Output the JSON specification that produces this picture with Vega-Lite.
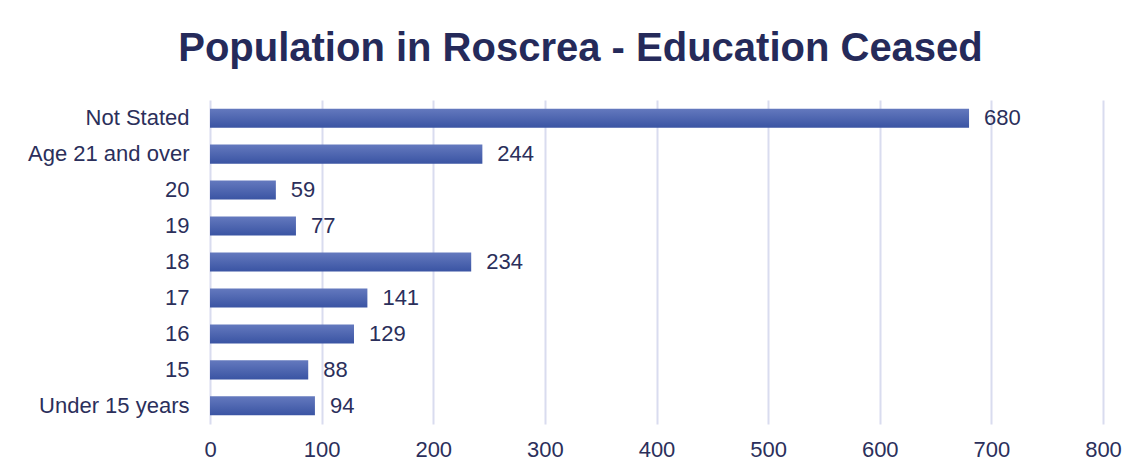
{
  "$schema": "https://vega.github.io/schema/vega-lite/v6.json",
  "width": 893,
  "height": 324,
  "autosize": {"type": "none"},
  "padding": {"left": 210, "top": 100, "right": 40, "bottom": 51},
  "background": "white",
  "title": {
    "text": "Population in Roscrea - Education Ceased",
    "font": "Liberation Sans",
    "fontSize": 40,
    "fontWeight": "bold",
    "color": "#252a5a",
    "anchor": "middle",
    "dx": -76,
    "baseline": "alphabetic",
    "offset": -1
  },
  "data": {
    "values": [
      {"category": "Not Stated", "value": 680},
      {"category": "Age 21 and over", "value": 244},
      {"category": "20", "value": 59},
      {"category": "19", "value": 77},
      {"category": "18", "value": 234},
      {"category": "17", "value": 141},
      {"category": "16", "value": 129},
      {"category": "15", "value": 88},
      {"category": "Under 15 years", "value": 94}
    ]
  },
  "encoding": {
    "y": {
      "field": "category",
      "type": "nominal",
      "sort": null,
      "scale": {"paddingInner": 0.47, "paddingOuter": 0.24},
      "axis": {
        "title": null,
        "ticks": false,
        "domain": false,
        "grid": false,
        "labelFont": "Liberation Sans",
        "labelFontSize": 22,
        "labelColor": "#2b2f5b",
        "labelPadding": 21
      }
    },
    "x": {
      "field": "value",
      "type": "quantitative",
      "scale": {"domain": [0, 800], "nice": false},
      "axis": {
        "title": null,
        "values": [0, 100, 200, 300, 400, 500, 600, 700, 800],
        "ticks": false,
        "domain": false,
        "grid": true,
        "gridColor": "#d9dcef",
        "gridWidth": 2,
        "labelFlush": false,
        "labelFont": "Liberation Sans",
        "labelFontSize": 22,
        "labelColor": "#2b2f5b",
        "labelPadding": 15
      }
    }
  },
  "layer": [
    {
      "mark": {
        "type": "bar",
        "color": {
          "gradient": "linear",
          "x1": 0, "y1": 0, "x2": 0, "y2": 1,
          "stops": [
            {"offset": 0, "color": "#6479be"},
            {"offset": 1, "color": "#3a54a3"}
          ]
        }
      }
    },
    {
      "mark": {
        "type": "text",
        "align": "left",
        "baseline": "middle",
        "dx": 15,
        "font": "Liberation Sans",
        "fontSize": 22,
        "color": "#2b2f5b"
      },
      "encoding": {
        "text": {"field": "value", "type": "quantitative"}
      }
    }
  ],
  "config": {
    "view": {"stroke": null}
  }
}
